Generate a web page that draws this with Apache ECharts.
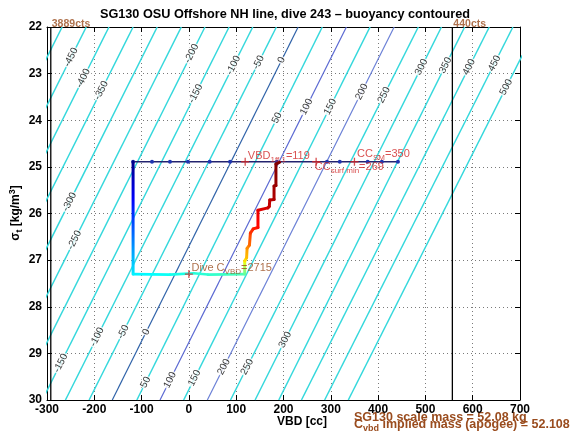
<!DOCTYPE html>
<html>
<head>
<meta charset="utf-8">
<script src="https://cdn.jsdelivr.net/npm/echarts@6/dist/echarts.min.js"></script>
<style>
html,body{margin:0;padding:0;background:#fff;}
#chart{width:570px;height:439px;}
</style>
</head>
<body>
<div id="chart"></div>
<script>
// ---------------- data ----------------
const titleText = 'SG130 OSU Offshore NH line, dive 243 \u2013 buoyancy contoured';
const xTickValues = [-300, -200, -100, 0, 100, 200, 300, 400, 500, 600, 700];
const yTickValues = [22, 23, 24, 25, 26, 27, 28, 29, 30];

// buoyancy contour levels (g) and where each crosses sigma=22 (top) and sigma=30 (bottom), in VBD cc
const contourLevels      = [-500, -450, -400, -350, -300, -250, -200, -150, -100, -50, 0, 50, 100, 150, 200, 250, 300, 350, 400, 450, 500];
const contourVbdAtTop    = [-268, -217, -169, -118, -67, -16, 34, 85, 135, 185, 231, 282, 333, 383, 434, 485, 534, 583, 635, 685, 735];
const contourVbdAtBottom = [-663, -612, -564, -513, -462, -411, -361, -310, -261, -211, -162, -110, -61, -11, 39, 88, 140, 190, 238, 287, 337];

// contour label placement (level, sigma along the line)
const contourLabelLevels = [-450, -400, -350, -300, -250, -200, -150, -150, -100, -100, -50, -50, 0, 0, 50, 50, 100, 100, 150, 150, 200, 200, 250, 250, 300, 300, 350, 400, 450, 500];
const contourLabelSigma  = [22.65, 23.10, 23.36, 25.75, 26.57, 22.57, 23.43, 29.21, 22.82, 28.65, 22.76, 28.54, 22.71, 28.54, 23.95, 29.62, 23.71, 29.57, 23.71, 29.53, 23.39, 29.29, 23.46, 29.29, 22.86, 28.71, 22.82, 22.86, 22.78, 23.29];

// dive trajectory (VBD cc, sigma_t, fraction of dive time -> colour)
const diveVbd   = [-118, -118, -40, 10, 40, 118, 118, 122, 123, 128, 130, 136, 146, 146, 167, 170, 171, 180, 180, 184, 184, 192];
const diveSigma = [24.89, 27.30, 27.31, 27.28, 27.31, 27.30, 27.02, 26.95, 26.75, 26.68, 26.42, 26.33, 26.30, 25.93, 25.88, 25.85, 25.71, 25.70, 25.41, 25.40, 24.94, 24.90];
const diveTime  = [0.00, 0.36, 0.39, 0.41, 0.42, 0.45, 0.64, 0.68, 0.73, 0.76, 0.82, 0.84, 0.86, 0.90, 0.92, 0.93, 0.94, 0.95, 0.97, 0.975, 0.995, 1.00];

// surface readings
const surfaceVbd   = [-118, -78, -40, -2, 44, 87, 186, 292, 319, 378, 408, 442];
const surfaceSigma = [24.89, 24.89, 24.89, 24.89, 24.89, 24.89, 24.89, 24.89, 24.89, 24.89, 24.89, 24.89];

// count limits
const countVbd    = [-292, 557];
const countLabels = ['3889cts', '440cts'];

// annotations
const noteVbd   = [119, 269, 350, 0];
const noteSigma = [24.89, 24.89, 24.89, 27.30];
const noteText  = ['{n|VBD}{s|1ff.1}{n|=119}', '{n|CC}{s|surf min}{n|=269}', '{n|CC}{s|SM}{n|=350}', '{b|Dive C}{bs|VBD}{b|=2715}'];

const massLine1 = 'SG130 scale mass = 52.08 kg';
const massLine2 = ['C', 'vbd', ' implied mass (apogee) = 52.108'];

// ---------------- styling helpers ----------------
const FONT = '"Liberation Sans", Arial, Helvetica, sans-serif';
const BROWN = '#9a4c1e';
const RED = '#cf2626';

function clamp(v) { return Math.max(0, Math.min(1, v)); }
function jet(t) {
  const r = clamp(1.5 - Math.abs(4 * t - 3));
  const g = clamp(1.5 - Math.abs(4 * t - 2));
  const b = clamp(1.5 - Math.abs(4 * t - 1));
  return 'rgb(' + Math.round(r * 255) + ',' + Math.round(g * 255) + ',' + Math.round(b * 255) + ')';
}
function segGradient(x1, s1, t1, x2, s2, t2) {
  const stops = [];
  for (let k = 0; k <= 6; k++) stops.push({ offset: k / 6, color: jet(t1 + (t2 - t1) * k / 6) });
  let gx0 = 0, gx1 = 0, gy0 = 0, gy1 = 0;
  if (x2 !== x1) { gx0 = x2 > x1 ? 0 : 1; gx1 = 1 - gx0; }
  if (s2 !== s1) { gy0 = s2 > s1 ? 0 : 1; gy1 = 1 - gy0; }
  return { type: 'linear', x: gx0, y: gy0, x2: gx1, y2: gy1, colorStops: stops, global: false };
}
function contourColor(level) {
  if (level === 0) return '#2f62a8';
  if (level === 100) return '#5a68d2';
  if (level === 200) return '#6b80d6';
  return '#35d8dc';
}

const series = [];

// contour lines
contourLevels.forEach((lev, i) => {
  series.push({
    type: 'line', silent: true, symbol: 'none', z: 1, clip: true,
    data: [[contourVbdAtTop[i], yTickValues[0]], [contourVbdAtBottom[i], yTickValues[yTickValues.length - 1]]],
    lineStyle: { color: contourColor(lev), width: lev === 0 || lev === 100 || lev === 200 ? 1.2 : 1.5 }
  });
});

// contour labels
const labelData = contourLabelLevels.map((lev, j) => {
  const i = contourLevels.indexOf(lev);
  const s = contourLabelSigma[j];
  const v = contourVbdAtTop[i] + (contourVbdAtBottom[i] - contourVbdAtTop[i]) * (s - 22) / 8;
  return [v, s, String(lev)];
});
series.push({
  type: 'scatter', silent: true, symbolSize: 0, z: 2, data: labelData,
  label: {
    show: true, position: 'inside', rotate: 63, formatter: p => p.data[2],
    fontFamily: FONT, fontSize: 10, color: '#000', backgroundColor: '#fff', padding: [0, 1]
  }
});

// count limit lines
countVbd.forEach((v, i) => {
  series.push({
    type: 'line', silent: true, symbol: 'none', z: 3,
    data: [[v, 22], [v, 30]], lineStyle: { color: '#000', width: 1.3 }
  });
});
series.push({
  type: 'scatter', silent: true, symbolSize: 0, z: 3,
  data: countVbd.map((v, i) => [v, 22, countLabels[i]]),
  label: {
    show: true, position: 'top', align: 'left', distance: 0, offset: [1, 3],
    formatter: p => p.data[2], fontFamily: FONT, fontSize: 10.5, fontWeight: 'bold', color: BROWN
  }
});

// surface line
series.push({
  type: 'line', silent: true, z: 4, symbol: 'circle', symbolSize: 4,
  data: surfaceVbd.map((v, i) => [v, surfaceSigma[i]]),
  lineStyle: { color: '#23236e', width: 1.5 },
  itemStyle: { color: '#1f35b0' }
});

// dive trajectory, coloured by time (jet)
for (let i = 0; i < diveVbd.length - 1; i++) {
  series.push({
    type: 'line', silent: true, symbol: 'none', z: 5,
    data: [[diveVbd[i], diveSigma[i]], [diveVbd[i + 1], diveSigma[i + 1]]],
    lineStyle: {
      width: i >= 1 && i <= 4 ? 2.6 : 3, cap: 'round',
      color: segGradient(diveVbd[i], diveSigma[i], diveTime[i], diveVbd[i + 1], diveSigma[i + 1], diveTime[i + 1])
    }
  });
}

// annotation markers and texts
const noteOffsets = [[-3, -6], [-7, 5], [-3, -8], [-3, -6]];
series.push({
  type: 'scatter', silent: true, z: 6,
  symbol: 'path://M5,0L5,10M0,5L10,5', symbolSize: 8,
  itemStyle: { color: 'rgba(0,0,0,0)', borderColor: RED, borderWidth: 1.3 },
  data: noteVbd.map((v, i) => ({
    value: [v, noteSigma[i]],
    label: {
      show: true, position: 'right', distance: 1, offset: noteOffsets[i],
      formatter: noteText[i],
      rich: {
        n: { fontFamily: FONT, fontSize: 11, color: RED },
        s: { fontFamily: FONT, fontSize: 8, color: RED, padding: [8, 0, 0, 0] },
        b: { fontFamily: FONT, fontSize: 11, color: BROWN },
        bs: { fontFamily: FONT, fontSize: 8, color: BROWN, padding: [8, 0, 0, 0] }
      }
    }
  }))
});

const gridLine = { show: true, lineStyle: { color: '#7a7a7a', width: 1, type: [1, 3] } };
const axisLabelStyle = { fontFamily: FONT, fontSize: 12, fontWeight: 'bold', color: '#000' };

const option = {
  animation: false,
  backgroundColor: '#fff',
  title: {
    text: titleText, left: 'center', top: 3,
    textStyle: { fontFamily: FONT, fontSize: 12.7, fontWeight: 'bold', color: '#000' }
  },
  grid: { left: 47, right: 50, top: 27, bottom: 39, containLabel: false },
  xAxis: [
    {
      type: 'value', position: 'bottom', min: xTickValues[0], max: xTickValues[xTickValues.length - 1], interval: 100,
      axisLine: { show: true, onZero: false, lineStyle: { color: '#000', width: 1 } },
      axisTick: { show: true, inside: true, length: 5, lineStyle: { color: '#000' } },
      axisLabel: Object.assign({ margin: 4 }, axisLabelStyle),
      splitLine: gridLine
    },
    {
      type: 'value', position: 'top', min: xTickValues[0], max: xTickValues[xTickValues.length - 1], interval: 100,
      axisLine: { show: true, onZero: false, lineStyle: { color: '#000', width: 1 } },
      axisTick: { show: true, inside: true, length: 5, lineStyle: { color: '#000' } },
      axisLabel: { show: false }, splitLine: { show: false }
    }
  ],
  yAxis: [
    {
      type: 'value', inverse: true, position: 'left', min: yTickValues[0], max: yTickValues[yTickValues.length - 1], interval: 1,
      axisLine: { show: true, onZero: false, lineStyle: { color: '#000', width: 1 } },
      axisTick: { show: true, inside: true, length: 5, lineStyle: { color: '#000' } },
      axisLabel: Object.assign({ margin: 5 }, axisLabelStyle),
      splitLine: gridLine
    },
    {
      type: 'value', inverse: true, position: 'right', min: yTickValues[0], max: yTickValues[yTickValues.length - 1], interval: 1,
      axisLine: { show: true, onZero: false, lineStyle: { color: '#000', width: 1 } },
      axisTick: { show: true, inside: true, length: 5, lineStyle: { color: '#000' } },
      axisLabel: { show: false }, splitLine: { show: false }
    }
  ],
  graphic: [
    {
      type: 'text', x: 302, y: 422, silent: true,
      style: { text: 'VBD [cc]', font: 'bold 12px ' + FONT, fill: '#000', align: 'center', verticalAlign: 'middle', textAlign: 'center', textVerticalAlign: 'middle' }
    },
    {
      type: 'text', x: 16, y: 213, rotation: Math.PI / 2, silent: true,
      style: {
        text: '{a|\u03c3}{b|t}{a| [kg/m}{c|3}{a|]}',
        align: 'center', verticalAlign: 'middle', textAlign: 'center', textVerticalAlign: 'middle',
        rich: {
          a: { fontFamily: FONT, fontSize: 12, fontWeight: 'bold', fill: '#000', color: '#000' },
          b: { fontFamily: FONT, fontSize: 9, fontWeight: 'bold', fill: '#000', color: '#000', padding: [7, 0, 0, 0] },
          c: { fontFamily: FONT, fontSize: 9, fontWeight: 'bold', fill: '#000', color: '#000', padding: [0, 0, 7, 0] }
        }
      }
    },
    {
      type: 'text', x: 354, y: 418, silent: true,
      style: { text: massLine1, font: 'bold 12.5px ' + FONT, fill: BROWN, verticalAlign: 'middle', textVerticalAlign: 'middle' }
    },
    {
      type: 'text', x: 354, y: 425, silent: true,
      style: {
        text: '{a|' + massLine2[0] + '}{b|' + massLine2[1] + '}{a|' + massLine2[2] + '}',
        verticalAlign: 'middle', textVerticalAlign: 'middle',
        rich: {
          a: { fontFamily: FONT, fontSize: 12.5, fontWeight: 'bold', fill: BROWN, color: BROWN },
          b: { fontFamily: FONT, fontSize: 9, fontWeight: 'bold', fill: BROWN, color: BROWN, padding: [8, 0, 0, 0] }
        }
      }
    }
  ],
  series: series
};

const chart = echarts.init(document.getElementById('chart'), null, { renderer: 'canvas' });
chart.setOption(option);
</script>
</body>
</html>
